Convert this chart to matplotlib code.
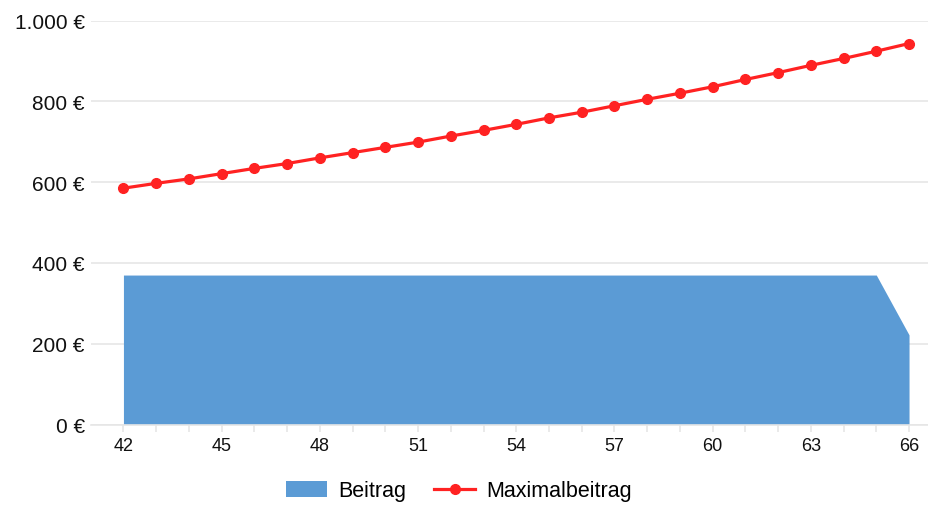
import matplotlib.pyplot as plt
from matplotlib.ticker import FuncFormatter, MultipleLocator

plt.rcParams['font.family'] = ['Liberation Sans', 'DejaVu Sans']

# Data
ages = [42, 43, 44, 45, 46, 47, 48, 49, 50, 51, 52, 53, 54,
        55, 56, 57, 58, 59, 60, 61, 62, 63, 64, 65, 66]
beitrag = [370, 370, 370, 370, 370, 370, 370, 370, 370, 370, 370, 370, 370,
           370, 370, 370, 370, 370, 370, 370, 370, 370, 370, 370, 222]
maximalbeitrag = [585, 597, 608, 621, 634, 646, 660, 673, 686, 699, 714, 728, 743,
                  759, 773, 789, 805, 820, 836, 854, 871, 889, 906, 924, 943]
yticks = [0, 200, 400, 600, 800, 1000]

blue = '#5B9BD5'
red = '#FF2222'

fig = plt.figure(figsize=(9.29, 5.06), dpi=100)
ax = fig.add_axes([0.098, 0.159, 0.902, 0.7985])

ax.fill_between(ages, 0, beitrag, color=blue, linewidth=0, label='Beitrag', zorder=2)
ax.plot(ages, maximalbeitrag, color=red, linewidth=2.3, marker='o', markersize=7,
        label='Maximalbeitrag', zorder=3)

ax.set_xlim(41.01, 66.61)
ax.set_ylim(0, 1000)
ax.set_yticks(yticks)
ax.yaxis.set_major_formatter(FuncFormatter(lambda v, p: f"{v:,.0f}".replace(",", ".") + " €"))
ax.xaxis.set_major_locator(MultipleLocator(3))
ax.xaxis.set_minor_locator(MultipleLocator(1))

ax.grid(axis='y', color='#e6e6e6', linewidth=1.2, zorder=0)
ax.set_axisbelow(True)
for s in ['top', 'right', 'left']:
    ax.spines[s].set_visible(False)
ax.spines['bottom'].set_color('#e6e6e6')
ax.spines['bottom'].set_linewidth(1.2)

ax.tick_params(axis='y', length=0, pad=4.5, labelsize=15, labelcolor='#111111')
ax.tick_params(axis='x', which='both', length=5, width=1.2, color='#e6e6e6',
               labelsize=13, labelcolor='#111111', pad=4)

fig.legend(loc='center', bbox_to_anchor=(0.494, 0.028), ncol=2, frameon=False,
           fontsize=15.5, handlelength=1.9, handleheight=0.77, columnspacing=1.3,
           handletextpad=0.5)

fig.savefig('out.png', dpi=100)
